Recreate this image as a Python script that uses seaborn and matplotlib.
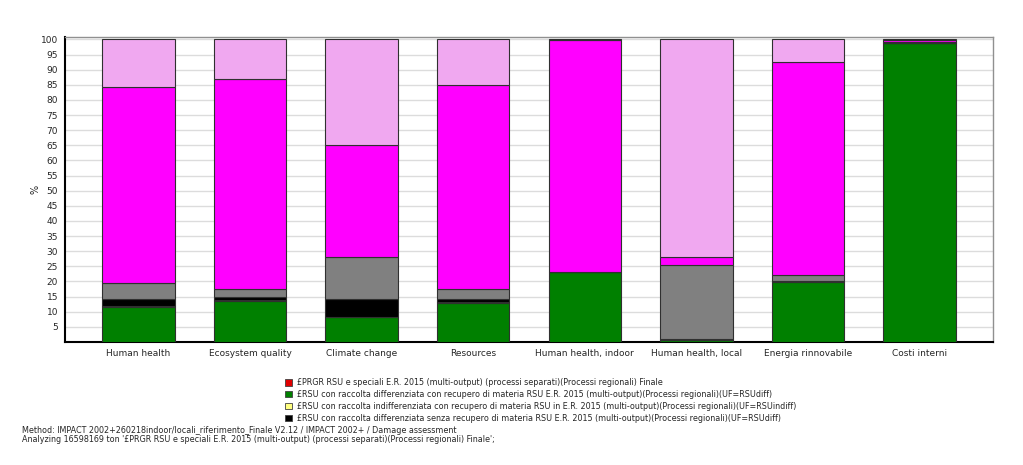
import numpy as np
import pandas as pd
import seaborn as sns
import matplotlib.pyplot as plt
from matplotlib.patches import Patch
from matplotlib.ticker import MultipleLocator

categories = ["Human health", "Ecosystem quality", "Climate change", "Resources",
              "Human health, indoor", "Human health, local", "Energia rinnovabile", "Costi interni"]

# stacked shares (%) from bottom to top
red_vals = [0, 0, 0, 0, 0, 0, 0, 0]
green_vals = [11.6, 13.7, 8.1, 13.0, 23.0, 0.5, 19.9, 98.9]
yellow_vals = [0.2, 0.2, 0.3, 0.2, 0.0, 0.0, 0.2, 0.0]
black_vals = [2.3, 0.9, 5.7, 0.9, 0.0, 0.4, 0.2, 0.0]
gray_vals = [5.5, 2.6, 14.1, 3.3, 0.2, 24.4, 1.7, 0.4]
magenta_vals = [64.6, 69.6, 36.8, 67.5, 76.5, 2.7, 70.4, 0.4]
pink_vals = [15.8, 13.0, 35.0, 15.1, 0.3, 72.0, 7.6, 0.3]

layers = [
    ("red", red_vals, "#e00000"),
    ("green", green_vals, "#008000"),
    ("yellow", yellow_vals, "#ffff80"),
    ("black", black_vals, "#000000"),
    ("gray", gray_vals, "#808080"),
    ("magenta", magenta_vals, "#ff00ff"),
    ("pink", pink_vals, "#f0a8f0"),
]

legend_labels = [
    "£PRGR RSU e speciali E.R. 2015 (multi-output) (processi separati)(Processi regionali) Finale",
    "£RSU con raccolta differenziata con recupero di materia RSU E.R. 2015 (multi-output)(Processi regionali)(UF=RSUdiff)",
    "£RSU con raccolta indifferenziata con recupero di materia RSU in E.R. 2015 (multi-output)(Processi regionali)(UF=RSUindiff)",
    "£RSU con raccolta differenziata senza recupero di materia RSU E.R. 2015 (multi-output)(Processi regionali)(UF=RSUdiff)",
]
legend_colors = ["#e00000", "#008000", "#ffff80", "#000000"]

sns.set_style("white")
plt.rcParams["font.family"] = ["DejaVu Sans"]

fig = plt.figure(figsize=(10.23, 4.65), dpi=100)
ax = fig.add_axes([0.0635, 0.2645, 0.9072, 0.6559])

bottom = np.zeros(len(categories))
for name, vals, color in layers:
    df = pd.DataFrame({"cat": categories, "val": vals})
    sns.barplot(data=df, x="cat", y="val", order=categories, color=color,
                bottom=bottom, width=0.65, edgecolor="#303030", linewidth=0.8,
                saturation=1, ax=ax, zorder=3)
    bottom = bottom + np.array(vals)

ax.set_xlim(-0.66, 7.66)
ax.set_ylim(0, 100.8)
ax.set_yticks(range(5, 101, 5))
ax.yaxis.set_minor_locator(MultipleLocator(1))
ax.grid(axis="y", color="#dcdcdc", linewidth=1, zorder=0)
ax.set_xlabel("")
ax.set_ylabel("%", fontsize=7, labelpad=0)
ax.tick_params(axis="both", labelsize=6.5, length=3, color="#404040", pad=2)
ax.tick_params(axis="y", which="minor", length=1.5, color="#606060")
for s in ["left", "bottom"]:
    ax.spines[s].set_color("black")
    ax.spines[s].set_linewidth(1.5)
for s in ["top", "right"]:
    ax.spines[s].set_color("#909090")
    ax.spines[s].set_linewidth(1.0)

handles = [Patch(facecolor=c, edgecolor="#404040", linewidth=0.6) for c in legend_colors]
fig.legend(handles, legend_labels, loc="upper left", bbox_to_anchor=(0.275, 0.195),
           frameon=False, fontsize=5.8, handlelength=0.8, handleheight=0.8,
           handletextpad=0.6, labelspacing=0.35, borderpad=0)

fig.text(0.0215, 0.075, "Method: IMPACT 2002+260218indoor/locali_riferimento_Finale V2.12 / IMPACT 2002+ / Damage assessment",
         fontsize=5.8, va="center")
fig.text(0.0215, 0.054, "Analyzing 16598169 ton '£PRGR RSU e speciali E.R. 2015 (multi-output) (processi separati)(Processi regionali) Finale';",
         fontsize=5.8, va="center")

fig.savefig("out.png", dpi=100)
